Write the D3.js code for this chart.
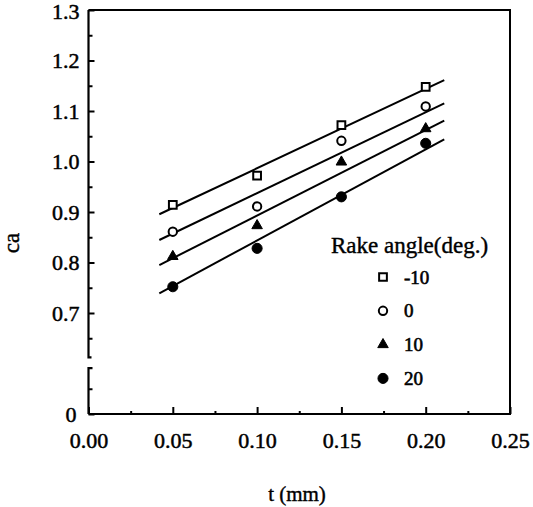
<!DOCTYPE html>
<html>
<head>
<meta charset="utf-8">
<script src="https://cdn.jsdelivr.net/npm/d3@7"></script>
<style>
  body { margin: 0; background: #fff; }
  svg { display: block; }
  svg text { font-family: "Liberation Serif", "Times New Roman", serif !important; fill: #000; }
</style>
</head>
<body>
<svg width="533" height="507"></svg>
<script>
var svg = d3.select("svg");

// data
var rakeAngles = ["-10", "0", "10", "20"];
var tValues = [0.05, 0.10, 0.15, 0.20];
var caMinus10 = [0.914, 0.972, 1.072, 1.148];
var ca0 = [0.861, 0.911, 1.041, 1.109];
var ca10 = [0.812, 0.873, 0.999, 1.065];
var ca20 = [0.752, 0.828, 0.930, 1.036];

// fitted straight lines: value at start and end of each line
var fitT = [0.042, 0.211];
var fitMinus10 = [0.8955, 1.161];
var fit0 = [0.8446, 1.1152];
var fit10 = [0.795, 1.0808];
var fit20 = [0.739, 1.044];

var xMajor = [0, 0.05, 0.10, 0.15, 0.20, 0.25];
var xMinor = [0.025, 0.075, 0.125, 0.175, 0.225];
var yMajor = [0.5, 0.7, 0.8, 0.9, 1.0, 1.1, 1.2, 1.3];   // 0.5 stands for the "0" below the break
var yMinor = [0.55, 0.65, 0.75, 0.85, 0.95, 1.05, 1.15, 1.25];
var breakLow = 0.591, breakHigh = 0.612;

var series = [
  { name: rakeAngles[0], values: caMinus10, fit: fitMinus10, shape: "square" },
  { name: rakeAngles[1], values: ca0, fit: fit0, shape: "circle" },
  { name: rakeAngles[2], values: ca10, fit: fit10, shape: "triangle" },
  { name: rakeAngles[3], values: ca20, fit: fit20, shape: "dot" }
];

var x = d3.scaleLinear().domain([0, 0.25]).range([88.5, 510]);
var y = d3.scaleLinear().domain([0.5, 1.3]).range([414, 10]);

// frame (top, right, bottom) and broken left axis
svg.append("path")
  .attr("d", "M" + x(0) + "," + y(1.3) + "H" + x(0.25) + "V" + y(0.5) + "H" + x(0))
  .attr("fill", "none").attr("stroke", "#000").attr("stroke-width", 2);
svg.append("path")
  .attr("d", "M" + x(0) + "," + y(0.5) + "V" + y(breakLow) + "h4")
  .attr("fill", "none").attr("stroke", "#000").attr("stroke-width", 2.2);
svg.append("path")
  .attr("d", "M" + (x(0) + 3) + "," + y(breakHigh) + "h-3V" + y(1.3))
  .attr("fill", "none").attr("stroke", "#000").attr("stroke-width", 2.2);

// x axis
var gx = svg.append("g").attr("transform", "translate(0," + y(0.5) + ")");
gx.call(d3.axisBottom(x).tickValues(xMajor).tickSize(-7).tickPadding(18)
  .tickFormat(d3.format(".2f")));
gx.append("g").call(d3.axisBottom(x).tickValues(xMinor).tickSize(-3).tickFormat(""));
gx.selectAll(".domain").remove();
gx.selectAll("line").attr("stroke-width", 2);
gx.attr("font-family", null).attr("font-size", null);
gx.selectAll("text").style("font-size", "22px")
  .attr("stroke", "#000").attr("stroke-width", 0.5);

// y axis
var gy = svg.append("g").attr("transform", "translate(" + x(0) + ",0)");
gy.call(d3.axisLeft(y).tickValues(yMajor).tickSize(-6).tickPadding(9)
  .tickFormat(function(d) { return d === 0.5 ? "0" : d3.format(".1f")(d); }));
gy.append("g").call(d3.axisLeft(y).tickValues(yMinor).tickSize(-4).tickFormat(""));
gy.selectAll(".domain").remove();
gy.selectAll("line").attr("stroke-width", 2);
gy.attr("font-family", null).attr("font-size", null);
gy.selectAll("text").style("font-size", "22px")
  .attr("stroke", "#000").attr("stroke-width", 0.5);
gy.selectAll(".tick text").filter(function(d) { return d === 0.5; })
  .attr("dy", "0.35em").attr("x", -12);
gy.selectAll(".tick text").filter(function(d) { return d === 1.3; }).attr("dy", "0.4em");

// axis titles
svg.append("text").attr("x", 297).attr("y", 501).attr("text-anchor", "middle")
  .style("font-size", "21px").attr("stroke", "#000").attr("stroke-width", 0.4)
  .text("t (mm)");
svg.append("text").attr("transform", "translate(19,243) rotate(-90)")
  .attr("text-anchor", "middle").style("font-size", "23px")
  .attr("stroke", "#000").attr("stroke-width", 0.4).text("ca");

// fitted lines
var line = d3.line().x(function(d) { return x(d[0]); }).y(function(d) { return y(d[1]); });
svg.append("g").selectAll("path").data(series).enter().append("path")
  .attr("d", function(s) { return line(d3.zip(fitT, s.fit)); })
  .attr("fill", "none").attr("stroke", "#000").attr("stroke-width", 2);

function symbolPath(shape) {
  if (shape === "square") return d3.symbol(d3.symbolSquare, 60)();
  if (shape === "circle") return d3.symbol(d3.symbolCircle, 55)();
  if (shape === "triangle") return d3.symbol(d3.symbolTriangle, 48)();
  return d3.symbol(d3.symbolCircle, 80)();
}
function styleMarker(sel) {
  sel.attr("d", function(s) { return symbolPath(s.shape); })
    .attr("fill", function(s) { return s.shape === "square" || s.shape === "circle" ? "#fff" : "#000"; })
    .attr("stroke", "#000")
    .attr("stroke-width", function(s) { return s.shape === "square" || s.shape === "circle" ? 2 : 1; });
}

// markers
series.forEach(function(s) {
  var pts = d3.zip(tValues, s.values);
  svg.append("g").selectAll("path").data(pts).enter().append("path")
    .attr("transform", function(d) { return "translate(" + x(d[0]) + "," + y(d[1]) + ")"; })
    .datum(s).call(styleMarker);
});

// legend
var legend = svg.append("g");
legend.append("text").attr("x", 331).attr("y", 253).style("font-size", "23px")
  .attr("stroke", "#000").attr("stroke-width", 0.4).text("Rake angle(deg.)");
var rows = legend.selectAll("g.row").data(series).enter().append("g")
  .attr("class", "row")
  .attr("transform", function(s, i) { return "translate(383," + (277 + i * 33.8) + ")"; });
rows.append("path").call(styleMarker);
rows.append("text").attr("x", 21).attr("dy", "0.35em").style("font-size", "19px")
  .attr("stroke", "#000").attr("stroke-width", 0.6)
  .text(function(s) { return s.name; });
</script>
</body>
</html>
